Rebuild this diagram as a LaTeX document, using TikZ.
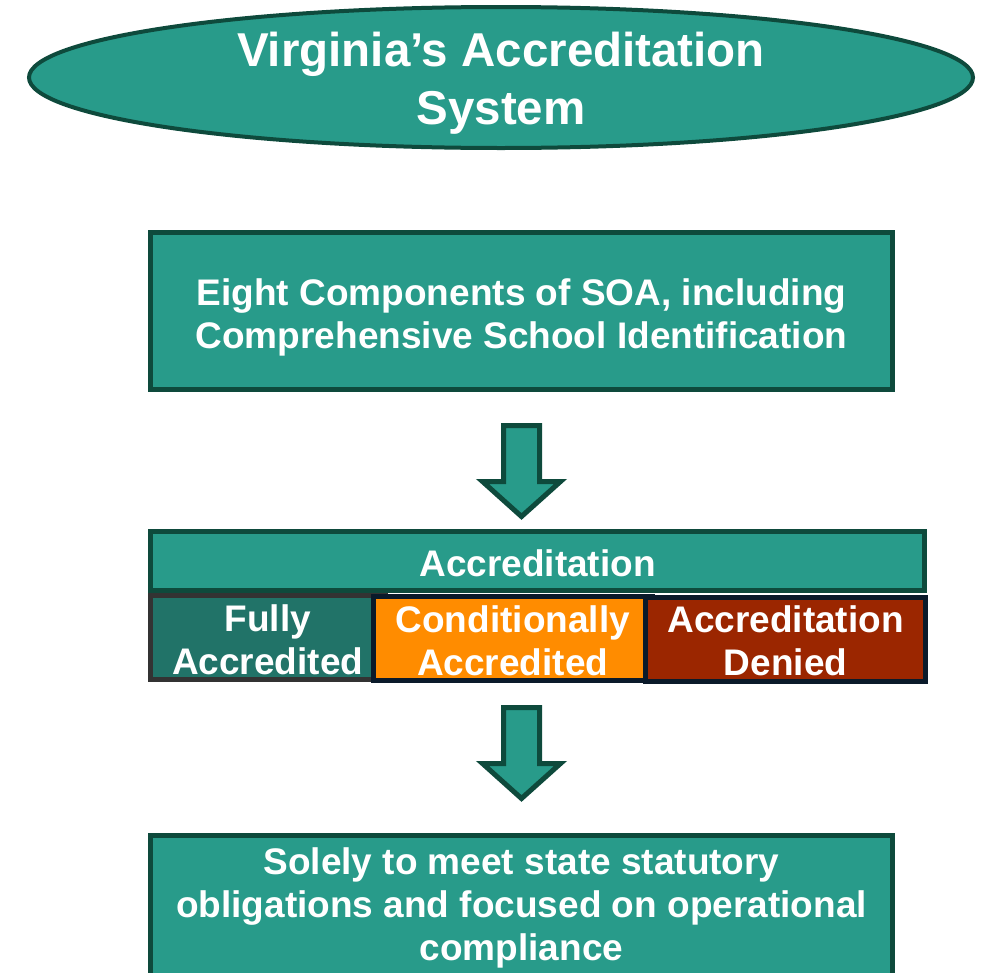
\documentclass[tikz,border=0pt]{standalone}
\usepackage{fontspec}
\setmainfont{Liberation Sans}
\usetikzlibrary{shapes.geometric,calc}
\definecolor{teal1}{RGB}{40,155,138}
\definecolor{dkgreen}{RGB}{14,74,60}
\definecolor{fullyc}{RGB}{33,115,104}
\definecolor{condc}{RGB}{255,140,0}
\definecolor{deniedc}{RGB}{155,38,0}
\definecolor{navyb}{RGB}{10,26,42}
\definecolor{grayb}{RGB}{51,51,51}
\tikzset{
  x=1pt,y=1pt,
  txt/.style={text=white,font=\bfseries\fontsize{37}{43}\selectfont,align=center,inner sep=0pt},
  bigtxt/.style={text=white,font=\bfseries\fontsize{47.5}{58}\selectfont,align=center,inner sep=0pt},
  tealbox/.style={draw=dkgreen,fill=teal1,line width=5pt,rectangle,inner sep=0pt},
  cell/.style={rectangle,line width=5pt,minimum height=84,inner sep=0pt},
  blockarr/.style={draw=dkgreen,fill=teal1,line width=5pt,line join=miter},
}
\newcommand\downblock[1]{%
  \draw[blockarr] ($(#1)+(-18,0)$) -- ($(#1)+(-18,-56)$) -- ($(#1)+(-39,-56)$)
    -- ($(#1)+(0,-91)$) -- ($(#1)+(39,-56)$) -- ($(#1)+(18,-56)$) -- ($(#1)+(18,0)$) -- cycle;}
\begin{document}
\begin{tikzpicture}
\useasboundingbox (0,0) rectangle (982,-972);
\clip (0,0) rectangle (982,-972);
% title
\node[ellipse,draw=dkgreen,fill=teal1,line width=4pt,minimum width=944,minimum height=141,inner sep=0pt,
      label={[bigtxt,yshift=-6]center:{Virginia’s Accreditation\\System}}]
  (title) at (501,-77.5) {};
% box 1
\node[tealbox,minimum width=742,minimum height=157.5,
      label={[txt,yshift=-6.5]center:{Eight Components of SOA, including\\Comprehensive School Identification}}]
  (box1) at (521.5,-310.75) {};
% header
\node[tealbox,minimum width=774,minimum height=59,
      label={[txt,yshift=-2]center:Accreditation}] (hdr) at (537.5,-561) {};
% cells
\node[cell,draw=grayb,fill=fullyc,minimum width=234.5,
      label={[txt,yshift=-2]center:{Fully\\Accredited}}] (fully) at (267.75,-637.5) {};
\node[cell,draw=navyb,fill=condc,minimum width=278.5,
      label={[txt,yshift=-2]center:{Conditionally\\Accredited}}] (cond) at (512.75,-638.5) {};
\node[cell,draw=navyb,fill=deniedc,minimum width=280,
      label={[txt,yshift=-2]center:{Accreditation\\Denied}}] (denied) at (785.5,-639) {};
% bottom box
\node[tealbox,minimum width=742,minimum height=140.5,
      label={[txt,yshift=-2]center:{Solely to meet state statutory\\obligations and focused on operational\\compliance}}]
  (box3) at (521.5,-905.75) {};
% arrows
\coordinate (a1) at ($(box1.south)+(0,-33.5)$);
\coordinate (a2) at ($(box1.south |- cond.south)+(0,-24.5)$);
\downblock{a1}
\downblock{a2}
\end{tikzpicture}
\end{document}
